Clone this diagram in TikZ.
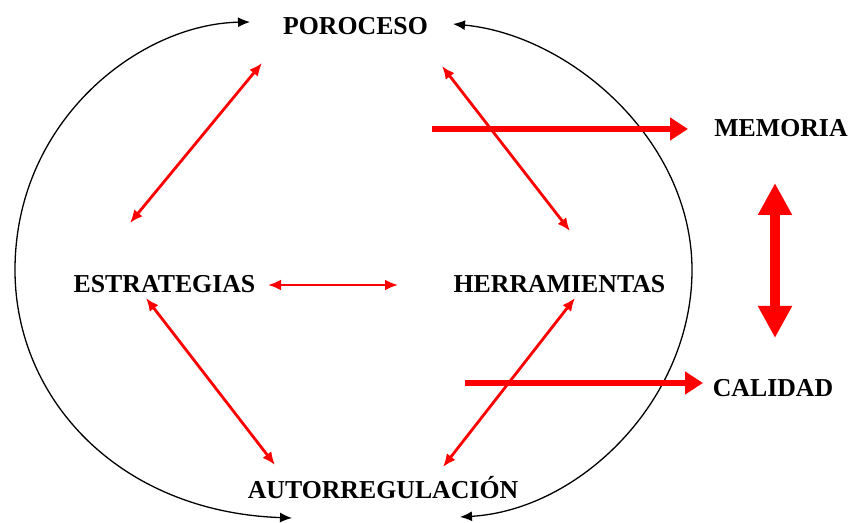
\documentclass[tikz,border=0pt]{standalone}
\usepackage{fontspec}
\setmainfont{Liberation Serif}
\usetikzlibrary{arrows.meta}
\begin{document}
\begin{tikzpicture}[x=0.5pt,y=-0.5pt,
  lbl/.style={inner sep=0pt, anchor=base, font=\fontsize{12.9}{15}\selectfont\bfseries},
  loopline/.style={draw, black, line width=0.65pt, {Latex[length=6pt,width=5pt]}-{Latex[length=6pt,width=5pt]}},
  redthin/.style={draw, red, line width=1.4pt, {Latex[length=6.5pt,width=5.5pt]}-{Latex[length=6.5pt,width=5.5pt]}},
  redthick/.style={draw, red, line width=3pt, -{Triangle[length=9pt,width=11pt]}},
  redbig/.style={draw, red, line width=5pt, {Triangle[length=16pt,width=16pt]}-{Triangle[length=16pt,width=16pt]}}]
\useasboundingbox (0,0) rectangle (851,523);

\node[lbl] (poro) at (355.5,35) {POROCESO};
\node[lbl] (mem) at (781,137) {MEMORIA};
\node[lbl] (est) at (164.5,293) {ESTRATEGIAS};
\node[lbl] (herr) at (559.5,293) {HERRAMIENTAS};
\node[lbl] (cal) at (773,397) {CALIDAD};
\node[lbl] (auto) at (383,498) {AUTORREGULACIÓN};

% end points of the connectors
\coordinate (lt) at (250,22);
\coordinate (lb) at (292,518);
\coordinate (rt) at (453,24);
\coordinate (rb) at (460,517);
\coordinate (pe1) at (262,63);
\coordinate (pe2) at (130,223);
\coordinate (ph1) at (442,66);
\coordinate (ph2) at (570,231);
\coordinate (eh1) at (268,285);
\coordinate (eh2) at (398,285);
\coordinate (ea1) at (146,298);
\coordinate (ea2) at (275,465);
\coordinate (ha1) at (575,298);
\coordinate (ha2) at (443,467);
\coordinate (m1) at (432,129);
\coordinate (m2) at (688,129);
\coordinate (c1) at (465,383);
\coordinate (c2) at (703,383);
\coordinate (v1) at (775,183);
\coordinate (v2) at (775,338);

\path[loopline] (lt) .. controls (140,24) and (15,120) .. (15,270)
  .. controls (15,400) and (120,512) .. (lb);
\path[loopline] (rt) .. controls (570,35) and (692,140) .. (692,270)
  .. controls (692,400) and (580,510) .. (rb);

\path[redthin] (pe1) -- (pe2);
\path[redthin] (ph1) -- (ph2);
\path[redthin] (eh1) -- (eh2);
\path[redthin] (ea1) -- (ea2);
\path[redthin] (ha1) -- (ha2);

\path[redthick] (m1) -- (m2);
\path[redthick] (c1) -- (c2);
\path[redbig] (v1) -- (v2);
\end{tikzpicture}
\end{document}
